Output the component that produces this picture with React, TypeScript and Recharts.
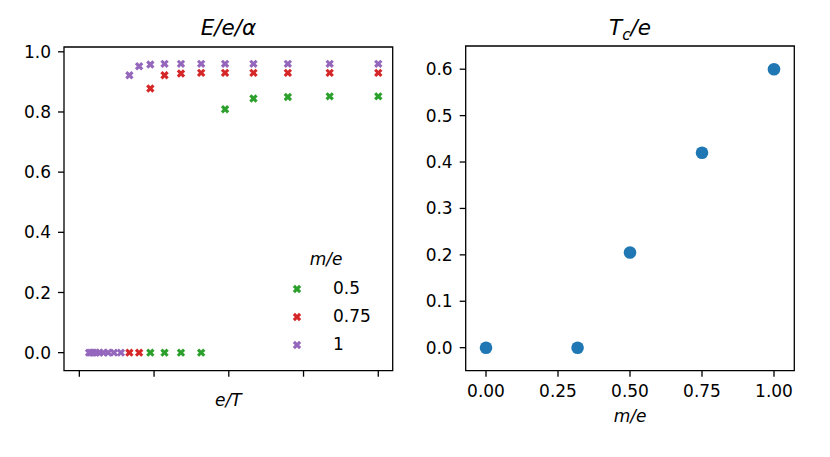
import { Legend, ReferenceArea, Scatter, ScatterChart, XAxis, YAxis } from 'recharts'

const FONT = '"DejaVu Sans", sans-serif'

// left panel: E/e/α against e/T, one series per m/e
const massLabels = ['0.5', '0.75', '1']
const massColors = ['#2ca02c', '#d62728', '#9467bd']

const eOverT05 = [0.95, 1.14, 1.36, 1.63, 1.95, 2.33, 2.79, 3.35, 4.0]
const energy05 = [0, 0, 0, 0, 0.809, 0.845, 0.85, 0.852, 0.852]

const eOverT075 = [0.67, 0.8, 0.95, 1.14, 1.36, 1.63, 1.95, 2.33, 2.79, 3.35, 4.0]
const energy075 = [0, 0, 0.878, 0.922, 0.928, 0.93, 0.93, 0.93, 0.93, 0.93, 0.93]

const eOverT1 = [
  0.13, 0.155, 0.186, 0.223, 0.268, 0.322, 0.386, 0.463, 0.556, 0.67, 0.8, 0.95, 1.14, 1.36, 1.63,
  1.95, 2.33, 2.79, 3.35, 4.0,
]
const energy1 = [0, 0, 0, 0, 0, 0, 0, 0, 0, 0.922, 0.952, 0.958, 0.96, 0.96, 0.96, 0.96, 0.96, 0.96, 0.96, 0.96]

const leftXTicks = [0, 1, 2, 3, 4]
const leftYTicks = [0, 0.2, 0.4, 0.6, 0.8, 1.0]

// right panel: T_c/e against m/e
const massValues = [0, 0.318, 0.5, 0.75, 1.0]
const criticalTemp = [0, 0, 0.205, 0.42, 0.6]

const rightXTicks = [0, 0.25, 0.5, 0.75, 1.0]
const rightYTicks = [0, 0.1, 0.2, 0.3, 0.4, 0.5, 0.6]

const leftXDomain: [number, number] = [-0.205, 4.193]
const leftYDomain: [number, number] = [-0.06, 1.016]
const rightXDomain: [number, number] = [-0.0705, 1.0705]
const rightYDomain: [number, number] = [-0.0496, 0.65]

function zip(xs: number[], ys: number[]) {
  return xs.map((x, i) => ({ x, y: ys[i] }))
}

const leftSeries = [zip(eOverT05, energy05), zip(eOverT075, energy075), zip(eOverT1, energy1)]
const rightData = zip(massValues, criticalTemp)

function XMarker(props: any) {
  const { cx, cy, fill } = props
  if (cx == null || cy == null) return null
  const a = 4.4
  const h = 1.55
  const pts = [
    [h, a], [h, h], [a, h], [a, -h], [h, -h], [h, -a],
    [-h, -a], [-h, -h], [-a, -h], [-a, h], [-h, h], [-h, a],
  ]
  const points = pts
    .map(([x, y]) => `${cx + (x - y) * Math.SQRT1_2},${cy + (x + y) * Math.SQRT1_2}`)
    .join(' ')
  return <polygon points={points} fill={fill} />
}

function Dot(props: any) {
  const { cx, cy } = props
  if (cx == null || cy == null) return null
  return <circle cx={cx} cy={cy} r={6.3} fill="#1f77b4" />
}

function MassLegend() {
  return (
    <svg width={120} height={120} style={{ overflow: 'visible' }}>
      <text x={46} y={25} textAnchor="middle" fontFamily={FONT} fontSize={17} fontStyle="italic">
        m/e
      </text>
      {massLabels.map((label, i) => (
        <g key={label}>
          <XMarker cx={17} cy={49 + i * 28} fill={massColors[i]} />
          <text x={53} y={53.5 + i * 28} fontFamily={FONT} fontSize={17}>
            {label}
          </text>
        </g>
      ))}
    </svg>
  )
}

const tickStyle = { fill: '#000', fontSize: 17, fontFamily: FONT }
const tickLine = { stroke: '#000', strokeWidth: 1.3 }

export default function App() {
  return (
    <div style={{ position: 'absolute', left: 0, top: 0, width: 830, height: 457, background: '#fff' }}>
      <div style={{ position: 'absolute', left: 0, top: 0 }}>
        <ScatterChart width={415} height={457} margin={{ top: 47, right: 22.3, bottom: 56.3, left: 14 }}>
          <XAxis
            type="number"
            dataKey="x"
            domain={leftXDomain}
            ticks={leftXTicks}
            allowDataOverflow
            axisLine={false}
            tickLine={tickLine}
            tickSize={6}
            tickFormatter={() => ''}
            height={30}
          />
          <YAxis
            type="number"
            dataKey="y"
            domain={leftYDomain}
            ticks={leftYTicks}
            allowDataOverflow
            axisLine={false}
            tickLine={tickLine}
            tickSize={6}
            tickMargin={7}
            tick={tickStyle}
            tickFormatter={(v: number) => v.toFixed(1)}
            width={50}
          />
          <ReferenceArea
            x1={leftXDomain[0]}
            x2={leftXDomain[1]}
            y1={leftYDomain[0]}
            y2={leftYDomain[1]}
            fill="none"
            stroke="#000"
            strokeWidth={1.3}
            ifOverflow="visible"
          />
          {leftSeries.map((data, i) => (
            <Scatter
              key={massLabels[i]}
              name={massLabels[i]}
              data={data}
              fill={massColors[i]}
              shape={<XMarker />}
              isAnimationActive={false}
            />
          ))}
          <Legend
            layout="vertical"
            align="center"
            verticalAlign="middle"
            wrapperStyle={{ left: 280, top: 240, width: 120, height: 120 }}
            content={() => <MassLegend />}
          />
        </ScatterChart>
      </div>
      <div style={{ position: 'absolute', left: 415, top: 0 }}>
        <ScatterChart width={415} height={457} margin={{ top: 46, right: 35.7, bottom: 56.3, left: 0.7 }}>
          <XAxis
            type="number"
            dataKey="x"
            domain={rightXDomain}
            ticks={rightXTicks}
            allowDataOverflow
            axisLine={false}
            tickLine={tickLine}
            tickSize={6}
            tickMargin={8}
            tick={tickStyle}
            tickFormatter={(v: number) => v.toFixed(2)}
            height={30}
          />
          <YAxis
            type="number"
            dataKey="y"
            domain={rightYDomain}
            ticks={rightYTicks}
            allowDataOverflow
            axisLine={false}
            tickLine={tickLine}
            tickSize={6}
            tickMargin={7}
            tick={tickStyle}
            tickFormatter={(v: number) => v.toFixed(1)}
            width={50}
          />
          <ReferenceArea
            x1={rightXDomain[0]}
            x2={rightXDomain[1]}
            y1={rightYDomain[0]}
            y2={rightYDomain[1]}
            fill="none"
            stroke="#000"
            strokeWidth={1.3}
            ifOverflow="visible"
          />
          <Scatter data={rightData} shape={<Dot />} isAnimationActive={false} />
        </ScatterChart>
      </div>
      <svg
        width={830}
        height={457}
        style={{ position: 'absolute', left: 0, top: 0, pointerEvents: 'none' }}
        fontFamily={FONT}
      >
        <text x={228.4} y={35} textAnchor="middle" fontSize={21.5} fontStyle="italic">
          E/e/α
        </text>
        <text x={630} y={35} textAnchor="middle" fontSize={21.5} fontStyle="italic">
          <tspan>T</tspan>
          <tspan fontSize={15} dy={5}>c</tspan>
          <tspan dy={-5}>/e</tspan>
        </text>
        <text x={228.4} y={406} textAnchor="middle" fontSize={17} fontStyle="italic">
          e/T
        </text>
        <text x={630} y={421.5} textAnchor="middle" fontSize={17} fontStyle="italic">
          m/e
        </text>
      </svg>
    </div>
  )
}
